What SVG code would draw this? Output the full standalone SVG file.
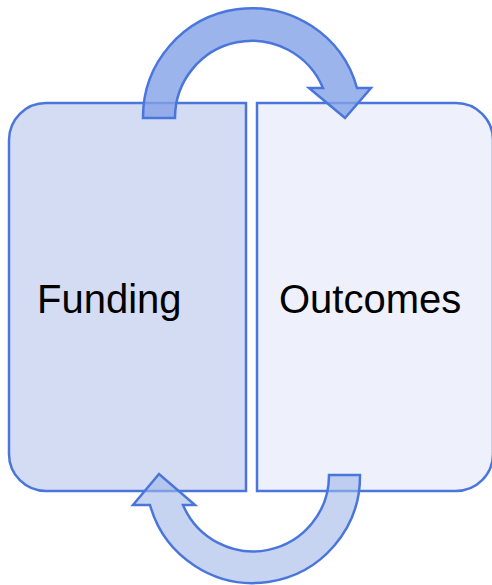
<svg xmlns="http://www.w3.org/2000/svg" width="492" height="585" viewBox="0 0 492 585">
  <style>
    .box { stroke: #4a76dc; stroke-width: 2.5; }
    .arrow { stroke: #4a76dc; stroke-width: 2.5; stroke-linejoin: miter; }
    .label { font-family: "Liberation Sans", Arial, sans-serif; font-size: 40px; fill: #000; }
  </style>
  <rect width="492" height="585" fill="#ffffff"/>

  <!-- Left panel: rounded on the left side -->
  <g id="funding">
    <path class="box" fill="#d4dcf4" d="M 246 103 L 46 103 A 37 37 0 0 0 9 140 L 9 454 A 37 37 0 0 0 46 491 L 246 491 Z"/>
    <text class="label" x="37" y="313">Funding</text>
  </g>

  <!-- Right panel: rounded on the right side -->
  <g id="outcomes">
    <path class="box" fill="#eef1fb" d="M 257 103 L 456 103 A 37 37 0 0 1 493 140 L 493 454 A 37 37 0 0 1 456 491 L 257 491 Z"/>
    <text class="label" x="279" y="313">Outcomes</text>
  </g>

  <!-- Circular arrows linking the panels -->
  <g id="connectors">
    <path class="arrow" fill="rgb(131,161,231)" fill-opacity="0.8"
          d="M 143 118 A 109 109 0 0 1 357 88 L 371 88 L 345 118 L 309 88 L 323 88 A 77 77 0 0 0 175 118 Z"/>
    <path class="arrow" fill="rgb(160,183,233)" fill-opacity="0.6"
          d="M 360 475 A 107 107 0 0 1 150 505 L 133 505 L 159 474 L 195 505 L 183 505 A 76 76 0 0 0 329 475 Z"/>
  </g>
</svg>
